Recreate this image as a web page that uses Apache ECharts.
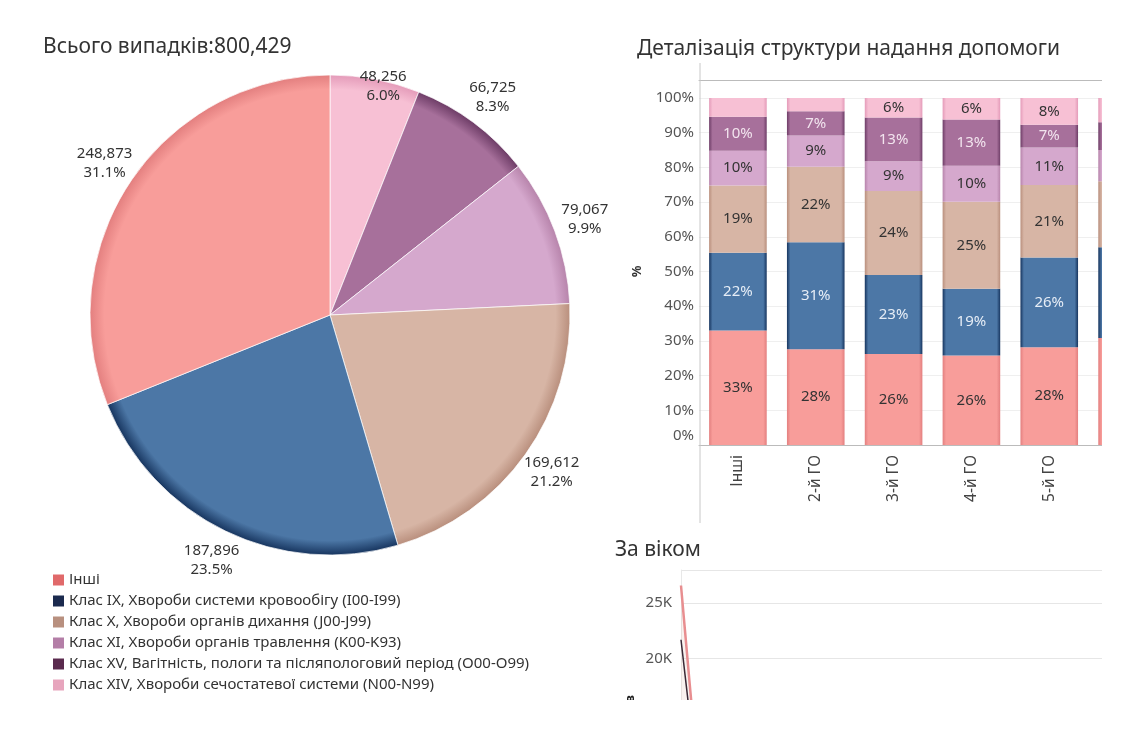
<!DOCTYPE html>
<html>
<head>
<meta charset="utf-8">
<script src="https://cdn.jsdelivr.net/npm/echarts@6/dist/echarts.min.js"></script>
<style>
  html, body { margin: 0; padding: 0; background: #fff; }
  #chart { width: 1135px; height: 731px; }
</style>
</head>
<body>
<div id="chart"></div>
<script>
// categories (legend order)
const classNames = [
  'Інші',
  'Клас IX, Хвороби системи кровообігу (I00-I99)',
  'Клас X, Хвороби органів дихання (J00-J99)',
  'Клас XI, Хвороби органів травлення (K00-K93)',
  'Клас XV, Вагітність, пологи та післяпологовий період (O00-O99)',
  'Клас XIV, Хвороби сечостатевої системи (N00-N99)'
];
const caseCounts = [248873, 187896, 169612, 79067, 66725, 48256];

// structure by group, % of cases
const groups = ['Інші', '2-й ГО', '3-й ГО', '4-й ГО', '5-й ГО', '6-й ГО'];
const shareInshi = [33.0, 27.6, 26.2, 25.8, 28.2, 30.8];
const shareIX = [22.4, 30.8, 22.8, 19.2, 25.8, 26.2];
const shareX = [19.4, 21.8, 24.2, 25.1, 20.9, 19.0];
const shareXI = [10.0, 9.0, 8.6, 10.4, 10.8, 9.0];
const shareXV = [9.8, 7.0, 12.6, 13.3, 6.6, 8.0];
const shareXIV = [5.4, 3.8, 5.6, 6.2, 7.7, 7.0];
const percentTicks = [0, 10, 20, 30, 40, 50, 60, 70, 80, 90, 100];

// by age (only the start of the chart is visible)
const ages = [0, 1, 2, 3];
const ageInshi = [26600, 22300, 18000, 13800];
const ageOther = [21700, 18400, 15100, 12000];

const faceColors = ['#f89d9a', '#4c77a6', '#d7b5a5', '#d5a8cd', '#a7709b', '#f7c0d4'];
const edgeColors = ['#e37f7f', '#17355f', '#b98f7d', '#b784ab', '#6e3d67', '#e49bb9'];
const legendColors = ['#e0696a', '#1b2a4e', '#b8907f', '#b47ea7', '#5a2a4e', '#e7a5bd'];
const barLabelColors = ['#333', '#e6edf6', '#333', '#333', '#f2e4ee', '#333'];

const total = caseCounts.reduce((a, b) => a + b, 0);
const pieCenter = [330, 315];
const pieR = 240;

const pieGradient = i => ({
  type: 'radial', x: pieCenter[0], y: pieCenter[1], r: pieR, global: true,
  colorStops: [
    { offset: 0, color: faceColors[i] },
    { offset: 0.94, color: faceColors[i] },
    { offset: 1, color: edgeColors[i] }
  ]
});
const barGradient = i => ({
  type: 'linear', x: 0, y: 0, x2: 1, y2: 0,
  colorStops: [
    { offset: 0, color: edgeColors[i] },
    { offset: 0.06, color: faceColors[i] },
    { offset: 0.94, color: faceColors[i] },
    { offset: 1, color: edgeColors[i] }
  ]
});

// pie goes clockwise from 12 o'clock, smallest first
const pieOrder = [5, 4, 3, 2, 1, 0];
const pieData = pieOrder.map(i => ({
  name: classNames[i], value: caseCounts[i],
  itemStyle: { color: pieGradient(i) }
}));
// the smallest slice's label sits lower, against the rim
const pieLabelData = pieOrder.map(i => ({
  name: classNames[i], value: caseCounts[i],
  label: i === 5 ? { offset: [2, 38] } : {}
}));

const shares = [shareInshi, shareIX, shareX, shareXI, shareXV, shareXIV];
const barSeries = shares.map((arr, i) => ({
  type: 'bar', name: classNames[i], stack: 'share',
  xAxisIndex: 0, yAxisIndex: 0,
  barWidth: '74%', data: arr,
  itemStyle: { color: barGradient(i) },
  label: {
    show: true, position: 'inside', fontSize: 15, color: barLabelColors[i],
    formatter: p => p.value >= 5.5 ? Math.round(p.value) + '%' : ''
  },
  silent: true
}));

const chart = echarts.init(document.getElementById('chart'));
chart.setOption({
  animation: false,
  textStyle: { fontFamily: 'Noto Sans, sans-serif' },
  title: [
    { text: 'Всього випадків:800,429', left: 38, top: 32,
      textStyle: { fontSize: 21, fontWeight: 'normal', color: '#333' } },
    { text: 'Деталізація структури надання допомоги', left: 632, top: 34,
      textStyle: { fontSize: 21, fontWeight: 'normal', color: '#333' } },
    { text: 'За віком', left: 610, top: 535,
      textStyle: { fontSize: 21, fontWeight: 'normal', color: '#333' } }
  ],
  legend: {
    orient: 'vertical', left: 48, top: 567, itemGap: 5,
    itemWidth: 11, itemHeight: 11, icon: 'rect', selectedMode: false,
    textStyle: { fontSize: 15, color: '#333', lineHeight: 16 },
    data: classNames.map((n, i) => ({ name: n, itemStyle: { color: legendColors[i] } }))
  },
  grid: [
    { left: 699, top: 98, width: 467, height: 347, outerBoundsMode: 'none', containLabel: false },
    { left: 681, top: 570, width: 421, height: 144, outerBoundsMode: 'none', containLabel: false }
  ],
  xAxis: [
    { type: 'category', gridIndex: 0, data: groups,
      axisLine: { lineStyle: { color: '#bbb' } }, axisTick: { show: false },
      axisLabel: { rotate: 90, fontSize: 15.5, color: '#444', margin: 10 } },
    { type: 'category', gridIndex: 0, data: groups, position: 'top', offset: 18,
      axisLine: { lineStyle: { color: '#bbb' } }, axisTick: { show: false },
      axisLabel: { show: false } },
    { type: 'value', gridIndex: 1, min: 0, max: 100,
      axisLine: { show: false }, axisTick: { show: false },
      axisLabel: { show: false }, splitLine: { show: false } }
  ],
  yAxis: [
    { type: 'value', gridIndex: 0, min: 0, max: 100, interval: 10,
      name: '%', nameLocation: 'middle', nameGap: 55, nameRotate: 90,
      nameTextStyle: { fontSize: 13, color: '#333', fontWeight: 'bold' },
      axisLine: { show: false }, axisTick: { show: false },
      axisLabel: {
        fontSize: 15, color: '#555', margin: 5,
        formatter: v => percentTicks.includes(v) ? (v === 0 ? '{zero|0%}' : v + '%') : '',
        rich: { zero: { fontSize: 15, color: '#555', padding: [0, 0, 18, 0] } }
      },
      splitLine: { lineStyle: { color: '#efefef' } } },
    { type: 'value', gridIndex: 1, min: 15000, max: 28000, interval: 5000,
      name: 'Кількість випадків', nameLocation: 'middle', nameGap: 44, nameRotate: 90,
      nameTextStyle: { fontSize: 13, color: '#222', fontWeight: 'bold', padding: [0, 232, 0, 0] },
      axisLine: { show: true, lineStyle: { color: '#e8e8e8' } }, axisTick: { show: false },
      axisLabel: { fontSize: 15, color: '#555', margin: 9, showMaxLabel: false,
        formatter: v => v % 5000 === 0 ? (v / 1000) + 'K' : '' },
      splitLine: { lineStyle: { color: '#e6e6e6' } } }
  ],
  series: [
    {
      type: 'pie', name: 'Всього випадків', center: pieCenter, radius: [0, pieR],
      startAngle: 90, clockwise: true, silent: true,
      itemStyle: { borderColor: 'rgba(255,255,255,0.7)', borderWidth: 1 },
      label: { show: false }, labelLine: { show: false },
      data: pieData
    },
    {
      type: 'pie', name: 'labels', center: pieCenter, radius: [pieR, pieR + 58],
      startAngle: 90, clockwise: true, silent: true, legendHoverLink: false,
      itemStyle: { color: 'rgba(0,0,0,0)' },
      label: {
        show: true, position: 'inside', fontSize: 15, color: '#333', lineHeight: 19,
        align: 'center',
        formatter: p => p.value.toLocaleString('en-US') + '\n' + (p.value / total * 100).toFixed(1) + '%'
      },
      labelLine: { show: false },
      data: pieLabelData
    },
    ...barSeries,
    {
      type: 'line', name: classNames[0], xAxisIndex: 2, yAxisIndex: 1,
      data: ages.map((a, i) => [a, ageInshi[i]]),
      symbol: 'none', lineStyle: { color: '#e88e90', width: 2.5 },
      areaStyle: { color: 'rgba(230,200,190,0.35)' }, silent: true
    },
    {
      type: 'line', name: 'line-dark', xAxisIndex: 2, yAxisIndex: 1,
      data: ages.map((a, i) => [a, ageOther[i]]),
      symbol: 'none', lineStyle: { color: '#3a2a36', width: 1.5 }, silent: true
    }
  ],
  graphic: [
    { type: 'line', shape: { x1: 700, y1: 63, x2: 700, y2: 523 },
      style: { stroke: '#c8c8c8', lineWidth: 1 }, z: 50 },
    { type: 'rect', shape: { x: 1102, y: 50, width: 40, height: 490 },
      style: { fill: '#fff' }, z: 100 },
    { type: 'rect', shape: { x: 590, y: 700, width: 560, height: 40 },
      style: { fill: '#fff' }, z: 100 }
  ]
});
</script>
</body>
</html>
